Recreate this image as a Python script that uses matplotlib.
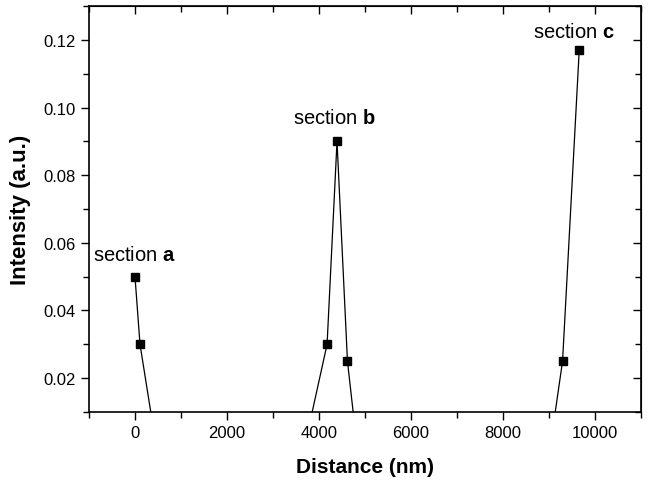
import numpy as np
import matplotlib
matplotlib.use("Agg")
import matplotlib.pyplot as plt
from matplotlib.ticker import MultipleLocator

plt.rcParams['font.family'] = ['Liberation Sans', 'DejaVu Sans']
plt.rcParams['mathtext.fontset'] = 'custom'
plt.rcParams['mathtext.rm'] = 'Liberation Sans'
plt.rcParams['mathtext.bf'] = 'Liberation Sans:bold'

# distance (nm) / intensity (a.u.) -- zero points lie below the visible range
distance = [0, 109, 460, 3690, 4176, 4392, 4619, 4825, 9030, 9295, 9658]
intensity = [0.050, 0.030, 0.0, 0.0, 0.030, 0.090, 0.025, 0.0, 0.0, 0.025, 0.117]

# markers only at measured points
mark_x = [0, 109, 4176, 4392, 4619, 9295, 9658]
mark_y = [0.050, 0.030, 0.030, 0.090, 0.025, 0.025, 0.117]

labels = ["a", "b", "c"]
label_pos = [(-920, 0.0565, "left"), (4330, 0.097, "center"), (9540, 0.1226, "center")]

fig = plt.figure(figsize=(6.51, 4.81), dpi=100)
ax = fig.add_axes([0.1367, 0.1414, 0.8479, 0.844])

ax.plot(distance, intensity, color='black', lw=0.9)
ax.plot(mark_x, mark_y, 's', color='black', ms=5.5, ls='none')

for lab, (lx, ly, ha) in zip(labels, label_pos):
    ax.text(lx, ly, r"section $\mathbf{" + lab + "}$", fontsize=14.5, ha=ha, va='center')

ax.set_xlim(-1000, 11000)
ax.set_ylim(0.01, 0.13)
ax.xaxis.set_major_locator(MultipleLocator(2000))
ax.xaxis.set_minor_locator(MultipleLocator(1000))
ax.yaxis.set_minor_locator(MultipleLocator(0.01))
ax.set_yticks([0.02, 0.04, 0.06, 0.08, 0.10, 0.12])
ax.set_yticklabels(['0.02', '0.04', '0.06', '0.08', '0.10', '0.12'])

ax.tick_params(which='both', direction='out', top=False, right=False, labelsize=12, width=1)
ax.tick_params(which='major', length=6)
ax.tick_params(which='minor', length=4)
for sp in ax.spines.values():
    sp.set_linewidth(1.2)

# inward ticks on top and right
sec_x = ax.secondary_xaxis('top')
sec_x.xaxis.set_major_locator(MultipleLocator(2000))
sec_x.xaxis.set_minor_locator(MultipleLocator(1000))
sec_x.tick_params(which='both', direction='in', labeltop=False, width=1)
sec_x.tick_params(which='major', length=6)
sec_x.tick_params(which='minor', length=4)
sec_y = ax.secondary_yaxis('right')
sec_y.yaxis.set_major_locator(MultipleLocator(0.02))
sec_y.yaxis.set_minor_locator(MultipleLocator(0.01))
sec_y.tick_params(which='both', direction='in', labelright=False, width=1)
sec_y.tick_params(which='major', length=6)
sec_y.tick_params(which='minor', length=4)

ax.set_xlabel('Distance (nm)', fontsize=15, fontweight='bold', labelpad=12)
ax.set_ylabel('Intensity (a.u.)', fontsize=16, fontweight='bold', labelpad=9)

fig.savefig('out.png', dpi=100)
